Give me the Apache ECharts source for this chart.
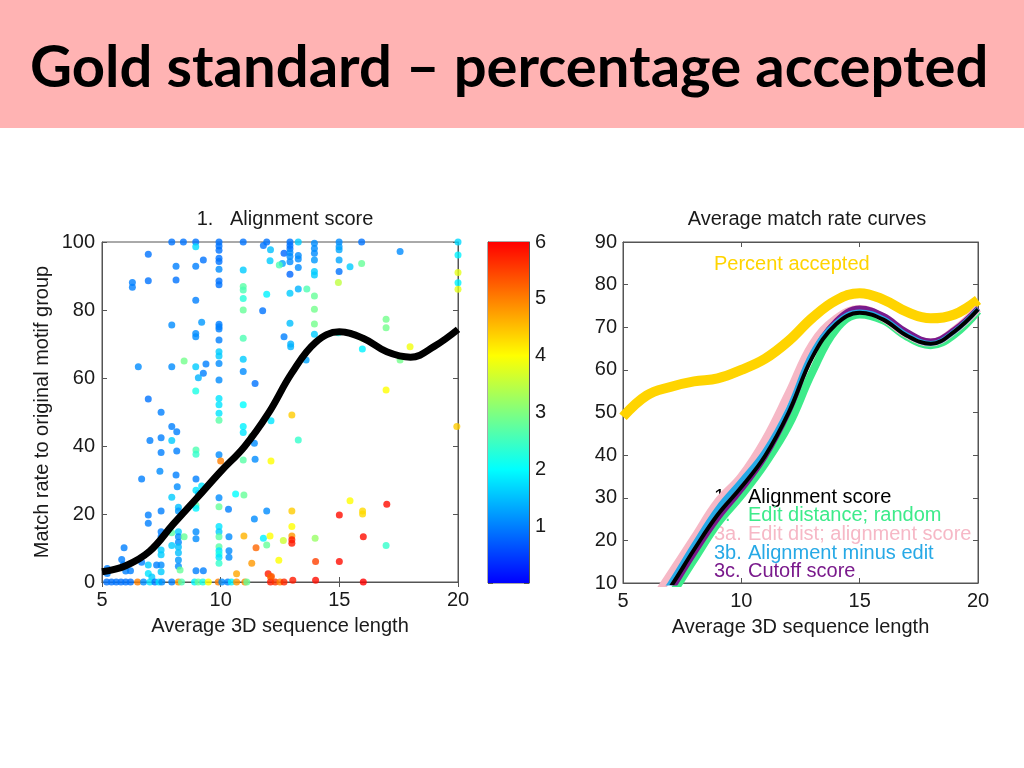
<!DOCTYPE html>
<html><head><meta charset="utf-8">
<script src="https://cdn.jsdelivr.net/npm/echarts@6/dist/echarts.min.js"></script>
<style>html,body{margin:0;padding:0;background:#fff}#c{width:1024px;height:768px}</style>
</head><body><div id="c"></div>
<script>
// ---------- texts ----------
const slideTitle = 'Gold standard \u2013 percentage accepted';
const leftTitle = '1.   Alignment score';
const rightTitle = 'Average match rate curves';
const xName = 'Average 3D sequence length';
const yNameLeft = 'Match rate to original motif group';
const percentLabel = 'Percent accepted';
const legendNums = ['1.', '2.', '3a.', '3b.', '3c.'];
const legendLabels = ['Alignment score', 'Edit distance; random', 'Edit dist; alignment score', 'Alignment minus edit', 'Cutoff score'];
const legendColors = ['#000000', '#3DEB8A', '#F6B8C6', '#27A9E6', '#7A1A8C'];

// ---------- left scatter: [length, match rate, colour value 0..6] ----------
const scatterPoints = [
 [7.94,100,0.9],[8.43,100,0.9],[8.95,100,0.9],[8.95,98.6,1.7],[9.93,100,0.9],[9.93,98.8,0.9],[9.93,97.6,0.9],[10.95,100,0.9],[11.8,99,0.9],[11.94,100,0.9],[12.1,97.7,1.5],
 [6.95,96.4,0.9],[8.12,92.9,1.0],[8.95,92.9,1.0],[9.27,94.7,0.9],[9.93,95.2,0.9],[9.93,94.3,0.9],[9.93,92,1.1],[10.95,91.8,1.6],[12.08,94.5,1.6],
 [6.28,88.1,1.0],[6.28,86.7,1.0],[6.95,88.6,0.9],[8.12,88.8,0.9],[9.93,88.5,0.9],[9.93,87.4,0.9],[10.95,86.9,2.7],[10.95,85.9,2.6],[11.94,84.6,1.9],[10.95,83.4,2.3],[8.95,82.9,1.0],[10.95,80,2.8],[11.77,79.8,0.9],
 [7.94,75.6,1.1],[9.2,76.4,1.2],[8.95,73.1,1.1],[8.95,72.1,1.1],[9.93,75.8,1.0],[9.93,75.1,1.0],[9.93,74.4,1.0],[9.93,71.2,1.0],[10.95,71.7,2.6],[9.93,67.7,1.6],[9.93,66.5,1.6],[9.93,64.3,1.1],[8.46,65,2.9],[6.53,63.3,1.1],[7.94,63.3,1.1],[8.95,63.3,1.6],[9.38,64.1,1.0],[9.27,61.4,1.0],[9.06,60.1,1.4],[9.93,59.4,1.1],[10.95,65.5,1.6],[10.95,61.9,1.1],[11.45,58.4,0.9],[8.95,56.2,2.2],[6.95,53.8,0.9],[9.93,54,1.8],[9.93,52.1,1.8],[10.95,52.1,2.0],
 [12.92,100,0.9],[12.92,99,0.9],[12.92,98,0.9],[13.27,100,1.6],[13.95,99.6,1.1],[13.95,98.1,1.1],[13.95,96.7,1.1],[14.99,100,1.1],[14.99,98.6,1.2],[14.99,97.7,1.3],[15.94,100,0.9],
 [12.67,96.7,0.8],[12.92,96.9,1.1],[12.92,95.7,1.1],[12.92,94.2,1.1],[13.27,96,1.1],[13.27,95,1.1],[12.6,93.7,1.3],[12.47,93.2,2.6],[13.27,92.5,1.1],[13.95,94.7,1.2],[13.95,91.3,1.6],[13.95,90.3,1.6],[14.99,94.7,1.3],[14.99,91.3,0.9],[15.45,92.7,1.6],[15.94,93.7,2.8],[17.56,97.2,1.1],
 [20,100,1.7],[20,96.2,1.9],[20,91,3.8],[20,88,1.9],[20,86.1,3.8],[12.92,90.5,0.8],[12.92,84.9,1.6],[13.27,86.2,1.4],[13.63,86.2,2.6],[13.95,84.1,2.8],[13.95,80.2,2.9],[13.95,75.9,2.9],[13.95,72.9,1.6],[14.96,88.1,3.5],
 [12.92,76.1,1.5],[12.67,72.1,1.0],[12.95,70,1.4],[12.95,69.2,1.4],[13.6,65.3,1.3],[14.96,73.3,2.2],[15.97,71.7,3.2],[15.97,68.5,1.9],[16.97,77.3,2.9],[16.97,74.8,2.9],[17.98,69.2,3.9],[17.56,65.3,2.9],[16.97,56.5,4.0],
 [7.49,49.9,1.0],[7.94,45.7,1.0],[8.15,44.2,1.0],[7.02,41.6,1.0],[7.49,42.4,1.0],[7.94,41.6,1.6],[7.49,38.1,1.0],[8.15,38.5,1.0],[6.67,30.3,1.0],[7.44,32.6,1.1],[8.12,31.5,1.0],[8.17,28,1.1],[7.94,24.9,1.6],[8.22,22,1.5],[8.22,20.9,1.2],[7.49,20.9,1.0],[6.95,19.7,1.0],[6.95,17.3,1.0],
 [8.96,38.8,2.6],[8.96,37.6,2.4],[8.96,30.3,1.0],[8.96,27,1.8],[9.06,26,1.6],[9.2,28.2,1.8],[8.96,22.6,2.7],[8.96,21.7,1.9],
 [9.93,49.6,1.8],[9.93,47.6,2.7],[9.93,37.4,1.1],[10,35.6,5.0],[9.93,24.8,1.1],[9.93,22.1,2.8],[10.33,21.4,1.0],
 [10.95,45.7,1.9],[10.95,44,1.8],[10.95,35.9,2.7],[10.63,25.9,2.0],[10.98,25.6,2.8],[11.31,42.9,2.8],[11.42,40.8,1.1],[11.45,36.1,1.1],[12.12,47.4,1.8],[12.12,35.6,4.0],
 [11.94,20.9,1.1],[11.42,18.5,1.1],[10.98,13.5,4.6],[11.49,10.1,5.2],[11.8,12.9,1.9],[11.94,10.9,2.8],[12.08,13.5,4.0],[11.31,5.5,4.8],[10.67,2.4,4.7],[12.0,2.4,5.8],[12.1,1.5,5.2],[12.45,6.4,4.0],
 [5.93,10.1,1.0],[5.22,4,1.0],[5.22,2.5,1.0],[5.83,6.6,1.0],[5.9,5.1,1.0],[6.0,3.2,1.0],[6.2,3.3,1.0],[6.67,5.8,1.0],[6.95,5,1.6],[6.95,2.5,1.8],[7.1,1.5,1.6],[7.3,5,1.0],[7.49,14.8,1.0],[7.49,13.3,1.0],[7.49,9.4,1.6],[7.49,8,1.6],[7.49,5,1.1],[7.49,3,1.6],
 [7.94,10.7,1.6],[7.94,14.5,2.7],[8.22,14.8,1.6],[8.22,13.3,1.1],[8.22,11.7,1.1],[8.22,10.3,1.5],[8.22,8.6,1.5],[8.22,6.5,1.2],[8.22,4.6,1.1],[8.46,13.3,2.8],[8.29,3.5,2.8],[8.96,14.8,1.1],[8.96,12.7,1.1],[8.96,3.3,1.0],[9.27,3.3,1.0],
 [9.93,16.3,1.8],[9.93,14.8,1.6],[9.93,13.3,2.7],[9.93,10.4,2.7],[9.93,9.2,1.8],[9.93,8.2,2.2],[9.93,7.3,1.8],[9.93,5.5,2.4],[10.35,13.3,1.1],[10.35,9.2,1.1],[10.35,7.3,1.1],
 [5.2,0,0.9],[5.4,0,0.9],[5.6,0,0.9],[5.8,0,0.9],[6.0,0,0.9],[6.2,0,0.9],[6.5,0,5.0],[6.75,0,1.1],[7.02,0,1.8],[7.23,0,0.9],[7.4,0,1.8],[7.52,0,1.1],[7.94,0,1.0],[8.22,0,4.8],[8.35,0,2.6],[8.9,0,1.9],[9.05,0,2.8],[9.25,0,2.2],[9.48,0,4.0],[9.9,0,5.0],[10.05,0,1.1],[10.3,0,1.0],[10.45,0,1.9],[10.67,0,4.8],[11.02,0,4.9],[11.1,0,2.8],[12.1,0,5.8],[12.3,0,5.6],[12.5,0,5.0],[12.67,0,5.7],[13.04,0.5,5.8],[14,0.5,5.9],[16.01,0,6],
 [13,49.1,4.4],[13.27,41.8,2.4],[19.95,45.7,4.4],[15.45,23.9,4.0],[17,22.9,5.9],[15,19.7,5.9],[15.98,20.9,4.3],[15.98,20,4.3],[13,20.9,4.4],[13,16.3,4.0],[13,13.5,4.8],[13,12.4,5.8],[13,11.4,5.8],[12.64,12.2,3.6],[13.98,12.9,3.2],[16.01,13.3,5.9],[16.97,10.7,2.4],[14,6,5.5],[15,6,5.9],[12.14,1.6,5.3]
];

// ---------- left fitted curve ----------
const leftCurveX = [5,6,7,8,9,10,11,12,13,14,15,16,17,18,19,20];
const leftCurveY = [3,4.8,9,17,24.7,32.5,39.8,49.5,61.5,70.5,73.6,71.7,67.7,66.1,69.3,74.3];

// ---------- right curves ----------
const acceptedX = [5,6,7,8,9,10,11,12,13,14,15,16,17,18,19,20];
const acceptedY = [49,54,56,57.3,58,60,62.6,66.8,72.2,76.3,78,76.5,73.6,72.1,73,76.4];
const rateX = [6,7,8,9,10,11,12,13,14,15,16,17,18,19,20];
const alignY  = [1.5,9,17.8,26,32.5,39.8,50,63,70.7,73.4,71.8,68,66.1,69,74.2];
const editY   = [0,7,15.5,24,30.6,38,47,59.5,69.5,73,71.6,67.8,65.8,68.3,73.8];
const editAlnY= [3.5,12,20.5,29,35,43.5,54.5,66,72,74.3,72.2,68.3,66.4,69.3,74.4];
const minusY  = [2,10,19,27.5,34,41,51,64,71,73.6,72,68.2,66.2,69,74.3];
const cutoffY = [0.5,8,16.8,25,31.8,39.5,50,63.5,71.5,74.5,72.8,69,66.8,69.5,74.5];

// ---------- colour bar ----------
const colorbarCategory = ['scale'];
const colorbarValue = [6];
const jetColors = ['#0000FF', '#00FFFF', '#FFFF00', '#FF0000'];

const zip = (xs, ys) => xs.map((x, i) => [x, ys[i]]);
const F = 'Liberation Sans, Arial, sans-serif';
const TXT = '#1a1a1a';
const AX = '#555';

function valAxis(o) {
  return Object.assign({
    type: 'value',
    axisLine: {show: true, lineStyle: {color: AX, width: 1}},
    axisTick: {show: true, inside: true, length: 5, lineStyle: {color: AX}},
    splitLine: {show: false},
    axisLabel: {fontFamily: F, fontSize: 20, color: TXT},
    nameTextStyle: {fontFamily: F, fontSize: 20, color: TXT}
  }, o);
}
function mirror(o) {
  return valAxis(Object.assign({axisLabel: {show: false}}, o));
}

const chart = echarts.init(document.getElementById('c'), null, {renderer: 'canvas'});
const option = {
  animation: false,
  backgroundColor: '#fff',
  title: [
    {text: leftTitle, left: 280, top: 204, textAlign: 'center', textStyle: {fontFamily: F, fontSize: 20, fontWeight: 'normal', color: TXT}},
    {text: rightTitle, left: 802, top: 204, textAlign: 'center', textStyle: {fontFamily: F, fontSize: 20, fontWeight: 'normal', color: TXT}}
  ],
  grid: [
    {left: 102, top: 242, width: 356, height: 340, show: true, borderColor: AX, borderWidth: 1, backgroundColor: 'transparent'},
    {left: 488, top: 242, width: 41, height: 341, show: true, borderColor: AX, borderWidth: 1, backgroundColor: 'transparent'},
    {left: 623, top: 242, width: 355, height: 341, show: true, borderColor: AX, borderWidth: 1, backgroundColor: 'transparent'}
  ],
  xAxis: [
    valAxis({gridIndex: 0, min: 5, max: 20, interval: 5, position: 'bottom', name: xName, nameLocation: 'middle', nameGap: 34, axisLabel: {fontFamily: F, fontSize: 20, color: TXT, margin: 8}}),
    mirror({gridIndex: 0, min: 5, max: 20, interval: 5, position: 'top'}),
    {type: 'category', gridIndex: 1, data: colorbarCategory, show: false},
    valAxis({gridIndex: 2, min: 5, max: 20, interval: 5, position: 'bottom', name: xName, nameLocation: 'middle', nameGap: 34, axisLabel: {fontFamily: F, fontSize: 20, color: TXT, margin: 8}}),
    mirror({gridIndex: 2, min: 5, max: 20, interval: 5, position: 'top'})
  ],
  yAxis: [
    valAxis({gridIndex: 0, min: 0, max: 100, interval: 20, position: 'left', name: yNameLeft, nameLocation: 'middle', nameGap: 50, axisLabel: {fontFamily: F, fontSize: 20, color: TXT, margin: 7}}),
    mirror({gridIndex: 0, min: 0, max: 100, interval: 20, position: 'right'}),
    valAxis({gridIndex: 1, min: 0, max: 6, interval: 1, position: 'right', axisLabel: {fontFamily: F, fontSize: 20, color: TXT, margin: 6, formatter: v => v === 0 ? '' : String(v)}}),
    mirror({gridIndex: 1, min: 0, max: 6, interval: 1, position: 'left'}),
    valAxis({gridIndex: 2, min: 10, max: 90, interval: 10, position: 'left', axisLabel: {fontFamily: F, fontSize: 20, color: TXT, margin: 6}}),
    mirror({gridIndex: 2, min: 10, max: 90, interval: 10, position: 'right'})
  ],
  visualMap: {
    show: false, type: 'continuous', min: 0, max: 6, dimension: 2, seriesIndex: 0,
    inRange: {color: jetColors}
  },
  series: [
    {type: 'scatter', xAxisIndex: 0, yAxisIndex: 0, data: scatterPoints, symbolSize: 7, z: 2, clip: false},
    {type: 'line', xAxisIndex: 0, yAxisIndex: 0, data: zip(leftCurveX, leftCurveY), smooth: 0.4, showSymbol: false, lineStyle: {color: '#000', width: 7}, z: 3},
    {type: 'bar', xAxisIndex: 2, yAxisIndex: 2, data: colorbarValue, barWidth: '100%', z: 1,
      itemStyle: {color: new echarts.graphic.LinearGradient(0, 0, 0, 1, [
        {offset: 0, color: jetColors[3]}, {offset: 1/3, color: jetColors[2]}, {offset: 2/3, color: jetColors[1]}, {offset: 1, color: jetColors[0]}])}},
    {type: 'line', xAxisIndex: 3, yAxisIndex: 4, data: zip(acceptedX, acceptedY), smooth: 0.4, showSymbol: false, lineStyle: {color: '#FFD400', width: 10}, z: 3},
    {type: 'line', xAxisIndex: 3, yAxisIndex: 4, data: zip(rateX, editY), smooth: 0.4, showSymbol: false, lineStyle: {color: legendColors[1], width: 8}, z: 3},
    {type: 'line', xAxisIndex: 3, yAxisIndex: 4, data: zip(rateX, editAlnY), smooth: 0.4, showSymbol: false, lineStyle: {color: legendColors[2], width: 8}, z: 3},
    {type: 'line', xAxisIndex: 3, yAxisIndex: 4, data: zip(rateX, cutoffY), smooth: 0.4, showSymbol: false, lineStyle: {color: legendColors[4], width: 5}, z: 3},
    {type: 'line', xAxisIndex: 3, yAxisIndex: 4, data: zip(rateX, minusY), smooth: 0.4, showSymbol: false, lineStyle: {color: legendColors[3], width: 5}, z: 3},
    {type: 'line', xAxisIndex: 3, yAxisIndex: 4, data: zip(rateX, alignY), smooth: 0.4, showSymbol: false, lineStyle: {color: '#000', width: 4}, z: 3}
  ],
  graphic: [
    {type: 'rect', shape: {x: 0, y: 0, width: 1024, height: 128}, style: {fill: '#FFB3B3'}, z: 0},
    {type: 'text', x: 30, y: 68, style: {text: slideTitle, font: 'bold 58px Lato, sans-serif', fill: '#000', textVerticalAlign: 'middle', verticalAlign: 'middle'}, z: 1},
    {type: 'text', x: 714, y: 264, style: {text: percentLabel, font: '20px ' + F, fill: '#FFD400', textVerticalAlign: 'middle', verticalAlign: 'middle'}, z: 1}
  ].concat(legendNums.map((n, i) => ({
    type: 'text', x: 714, y: 497 + i * 18.7, z: 1,
    style: {text: n, font: '20px ' + F, fill: legendColors[i], textVerticalAlign: 'middle', verticalAlign: 'middle'}
  }))).concat(legendLabels.map((t, i) => ({
    type: 'text', x: 748, y: 497 + i * 18.7, z: 1,
    style: {text: t, font: '20px ' + F, fill: legendColors[i], textVerticalAlign: 'middle', verticalAlign: 'middle'}
  })))
};
chart.setOption(option);
</script>
</body></html>
